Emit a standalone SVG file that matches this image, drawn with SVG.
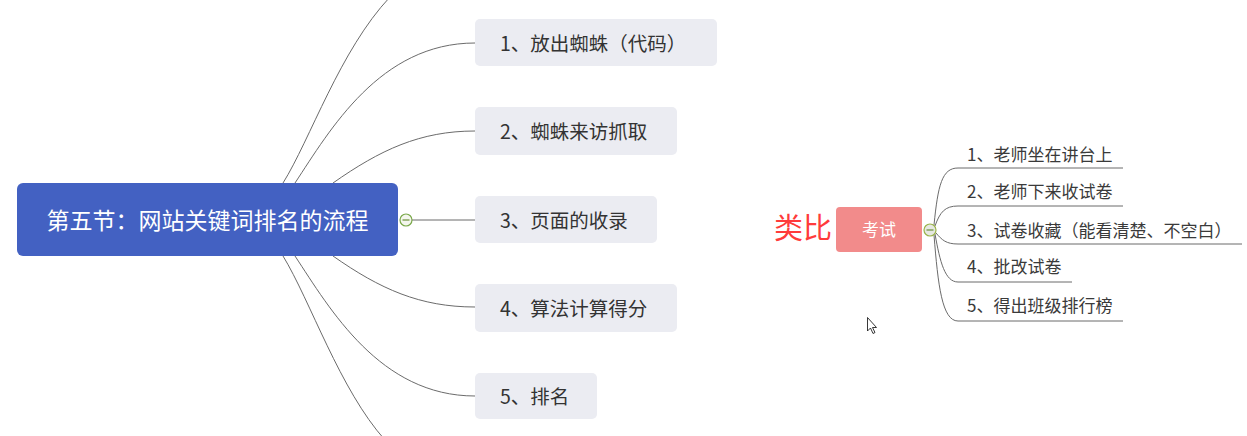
<svg xmlns="http://www.w3.org/2000/svg" width="1247" height="436" viewBox="0 0 1247 436">
<style>
text{font-family:"Noto Sans CJK SC","Noto Sans",sans-serif}
.conn{fill:none;stroke:#6b6b6b;stroke-width:1}
.sub{fill:#ebecf2}
.subt{font-size:19.5px;fill:#333}
.rt{font-size:17px;fill:#3a3a3a}
.tog{fill:#f4f6ee;stroke:#7aa84a;stroke-width:1.2}
</style>
<rect width="1247" height="436" fill="#fff"/>
<g id="connectors">
<path class="conn" d="M283,183 C310,140 340,50 390,-3"/>
<path class="conn" d="M295,183 C330,130 380,43 475,43"/>
<path class="conn" d="M333,183 C380,150 420,131 475,131"/>
<path class="conn" d="M412,220 L475,220"/>
<path class="conn" d="M333,256 C380,289 420,307 475,307"/>
<path class="conn" d="M295,256 C330,309 380,396 475,396"/>
<path class="conn" d="M283,256 C310,300 340,390 385,440"/>
<path class="conn" d="M934,225 C938,185 942,168 958,168 L1123,168"/>
<path class="conn" d="M935,226 C940,212 945,206 958,206 L1123,206"/>
<path class="conn" d="M936,233 C942,240 946,244 958,244 L1242,244"/>
<path class="conn" d="M935,234 C940,262 945,282 958,282 L1072,282"/>
<path class="conn" d="M934,235 C938,285 942,321 958,321 L1123,321"/>
</g>
<g id="root">
<rect x="17" y="183" width="381" height="73" rx="6" fill="#4361c2"/>
<text x="207.5" y="228.5" font-size="23" fill="#fff" text-anchor="middle">第五节：网站关键词排名的流程</text>
<circle class="tog" cx="406" cy="220" r="6"/>
<line x1="402.5" y1="220" x2="409.5" y2="220" stroke="#6a8f3a" stroke-width="1.2"/>
</g>
<g id="n1"><rect class="sub" x="475" y="19" width="242" height="47" rx="5"/><text class="subt" x="500" y="50.5">1、放出蜘蛛（代码）</text></g>
<g id="n2"><rect class="sub" x="475" y="107" width="202" height="48" rx="5"/><text class="subt" x="500" y="139">2、蜘蛛来访抓取</text></g>
<g id="n3"><rect class="sub" x="475" y="196" width="182" height="47" rx="5"/><text class="subt" x="500" y="227.5">3、页面的收录</text></g>
<g id="n4"><rect class="sub" x="475" y="284" width="202" height="48" rx="5"/><text class="subt" x="500" y="315.5">4、算法计算得分</text></g>
<g id="n5"><rect class="sub" x="475" y="373" width="122" height="46" rx="5"/><text class="subt" x="500" y="404">5、排名</text></g>
<g id="analogy"><text x="774" y="239" font-size="29" fill="#ff3b3b">类比</text></g>
<g id="exam">
<rect x="836" y="207" width="86" height="45" rx="4" fill="#f28b8b"/>
<text x="879" y="235.5" font-size="17" fill="#fff" text-anchor="middle">考试</text>
<circle cx="930" cy="230" r="6" fill="#e6e8e2" stroke="#9ab34a" stroke-width="1.2"/>
<line x1="926.5" y1="230" x2="933.5" y2="230" stroke="#6a8f3a" stroke-width="1.2"/>
</g>
<g id="e1"><text class="rt" x="967" y="160.5">1、老师坐在讲台上</text></g>
<g id="e2"><text class="rt" x="967" y="198">2、老师下来收试卷</text></g>
<g id="e3"><text class="rt" x="967" y="236.5">3、试卷收藏（能看清楚、不空白）</text></g>
<g id="e4"><text class="rt" x="967" y="273">4、批改试卷</text></g>
<g id="e5"><text class="rt" x="967" y="311.5">5、得出班级排行榜</text></g>
<path d="M867.5,317.5 L867.5,331 L870.5,328 L873,333.5 L875,332.5 L872.5,327.5 L876.5,327.5 Z" fill="#fff" stroke="#222" stroke-width="0.9"/>
</svg>
